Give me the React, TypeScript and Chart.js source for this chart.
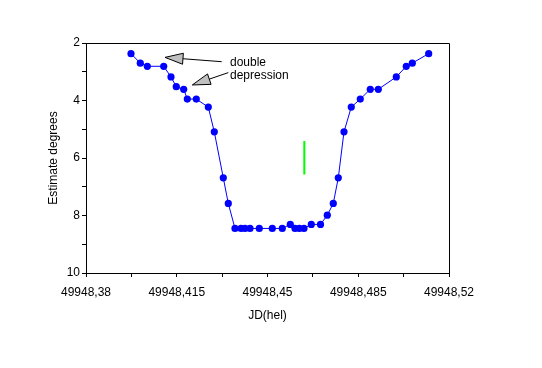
import React, { useEffect, useRef } from "react";
import { Chart, registerables } from "chart.js";

Chart.register(...registerables);

// Observations: heliocentric JD and estimated brightness (degrees)
const jd = [
  49948.39735, 49948.40094, 49948.40364, 49948.40997, 49948.41278, 49948.41482,
  49948.41768, 49948.41907, 49948.42254, 49948.42717, 49948.42948, 49948.43295,
  49948.43488, 49948.43746, 49948.43978, 49948.44132, 49948.44325, 49948.44683,
  49948.45185, 49948.4557, 49948.45879, 49948.4606, 49948.46226, 49948.46407,
  49948.46689, 49948.47044, 49948.47306, 49948.47537, 49948.4773, 49948.4795,
  49948.48231, 49948.48578, 49948.48964, 49948.49273, 49948.49967, 49948.50352,
  49948.50584, 49948.51216,
];
const estimate = [
  2.37, 2.7, 2.81, 2.81, 3.18, 3.52,
  3.61, 3.95, 3.95, 4.23, 5.09, 6.69,
  7.58, 8.45, 8.45, 8.45, 8.45, 8.45,
  8.45, 8.45, 8.31, 8.45, 8.45, 8.45,
  8.31, 8.31, 7.99, 7.58, 6.69, 5.09,
  4.23, 3.95, 3.61, 3.61, 3.18, 2.81,
  2.7, 2.37,
];

// Green mid-eclipse marker
const markerJd = [49948.4642, 49948.4642];
const markerY = [5.41, 6.57];

// Axis ticks
const xTickValues = [
  49948.38, 49948.3975, 49948.415, 49948.4325, 49948.45,
  49948.4675, 49948.485, 49948.5025, 49948.52,
];
const xTickLabels = ["49948,38", "", "49948,415", "", "49948,45", "", "49948,485", "", "49948,52"];
const yTickValues = [2, 3, 4, 5, 6, 7, 8, 9, 10];
const yTickLabels = ["2", "", "4", "", "6", "", "8", "", "10"];

// Annotation
const noteLines = ["double", "depression"];
const noteJd = 49948.43553;
const noteY = [2.7, 3.15];
const arrowTipJd = [49948.41047, 49948.42099];
const arrowTipY = [2.5, 3.46];
const arrowTailJd = [49948.43233, 49948.43488];
const arrowTailY = [2.65, 3.03];

const FONT = "'Liberation Sans', Arial, sans-serif";

const framePlugin = {
  id: "frameAndNotes",
  afterDatasetsDraw(chart: any) {
    const { ctx, chartArea, scales } = chart;
    const xs = scales.x;
    const ys = scales.y;
    ctx.save();
    // plot frame
    ctx.strokeStyle = "#000";
    ctx.lineWidth = 1;
    const l = Math.round(chartArea.left) + 0.5;
    const t = Math.round(chartArea.top) + 0.5;
    const r = Math.round(chartArea.right) + 0.5;
    const b = Math.round(chartArea.bottom) + 0.5;
    ctx.beginPath();
    ctx.moveTo(l, t);
    ctx.lineTo(r, t);
    ctx.lineTo(r, b);
    ctx.stroke();

    // arrows
    for (let i = 0; i < arrowTipJd.length; i++) {
      const tx = xs.getPixelForValue(arrowTipJd[i]);
      const ty = ys.getPixelForValue(arrowTipY[i]);
      const sx = xs.getPixelForValue(arrowTailJd[i]);
      const sy = ys.getPixelForValue(arrowTailY[i]);
      const dx = sx - tx;
      const dy = sy - ty;
      const len = Math.hypot(dx, dy);
      const ux = dx / len;
      const uy = dy / len;
      const headLen = 18;
      const half = 5.5;
      const bx = tx + ux * headLen;
      const by = ty + uy * headLen;
      ctx.beginPath();
      ctx.moveTo(bx, by);
      ctx.lineTo(sx, sy);
      ctx.strokeStyle = "#000";
      ctx.lineWidth = 1;
      ctx.stroke();
      ctx.beginPath();
      ctx.moveTo(tx, ty);
      ctx.lineTo(bx - uy * half, by + ux * half);
      ctx.lineTo(bx + uy * half, by - ux * half);
      ctx.closePath();
      ctx.fillStyle = "#c0c0c0";
      ctx.fill();
      ctx.stroke();
    }

    // note text
    ctx.fillStyle = "#000";
    ctx.font = "12px " + FONT;
    ctx.textAlign = "left";
    ctx.textBaseline = "middle";
    for (let i = 0; i < noteLines.length; i++) {
      ctx.fillText(noteLines[i], xs.getPixelForValue(noteJd), ys.getPixelForValue(noteY[i]));
    }
    ctx.restore();
  },
};

export default function App() {
  const canvasRef = useRef<HTMLCanvasElement | null>(null);

  useEffect(() => {
    document.body.style.margin = "0";
    const canvas = canvasRef.current;
    if (!canvas) return;
    const chart = new Chart(canvas, {
      type: "scatter",
      data: {
        datasets: [
          {
            data: jd.map((x, i) => ({ x, y: estimate[i] })),
            showLine: true,
            borderColor: "#0000ff",
            backgroundColor: "#0000ff",
            borderWidth: 1,
            pointRadius: 3.6,
            pointBorderWidth: 0,
            pointBackgroundColor: "#0000ff",
          },
          {
            data: markerJd.map((x, i) => ({ x, y: markerY[i] })),
            showLine: true,
            borderColor: "#00ff00",
            backgroundColor: "#00ff00",
            borderWidth: 2,
            pointRadius: 0,
          },
        ],
      },
      options: {
        animation: false,
        responsive: false,
        events: [],
        layout: { padding: { left: 46, top: 43, right: 93, bottom: 45 } },
        plugins: {
          legend: { display: false },
          tooltip: { enabled: false },
          title: { display: false },
        },
        scales: {
          x: {
            type: "linear",
            min: 49948.38,
            max: 49948.52,
            afterBuildTicks: (scale: any) => {
              scale.ticks = xTickValues.map((v) => ({ value: v }));
            },
            afterFit: (scale: any) => {
              scale.height = 50;
            },
            ticks: {
              color: "#000",
              font: { family: FONT, size: 12 },
              padding: 8,
              maxRotation: 0,
              autoSkip: false,
              callback: (_v: any, i: number) => xTickLabels[i],
            },
            grid: {
              display: true,
              drawOnChartArea: false,
              drawTicks: true,
              tickLength: 4,
              color: "#000",
            },
            border: { display: true, color: "#000", width: 1 },
            title: {
              display: true,
              text: "JD(hel)",
              color: "#000",
              font: { family: FONT, size: 12 },
              padding: 0,
            },
          },
          y: {
            type: "linear",
            reverse: true,
            min: 2,
            max: 10,
            afterBuildTicks: (scale: any) => {
              scale.ticks = yTickValues.map((v) => ({ value: v }));
            },
            afterFit: (scale: any) => {
              scale.width = 40;
            },
            ticks: {
              color: "#000",
              font: { family: FONT, size: 12 },
              padding: 2,
              autoSkip: false,
              callback: (_v: any, i: number) => yTickLabels[i],
            },
            grid: {
              display: true,
              drawOnChartArea: false,
              drawTicks: true,
              tickLength: 4,
              color: "#000",
            },
            border: { display: true, color: "#000", width: 1 },
            title: {
              display: true,
              text: "Estimate degrees",
              color: "#000",
              font: { family: FONT, size: 12 },
              padding: 0,
            },
          },
        },
      },
      plugins: [framePlugin],
    } as any);
    return () => chart.destroy();
  }, []);

  return (
    <div style={{ width: 542, height: 368, background: "#fff" }}>
      <canvas ref={canvasRef} width={542} height={368} style={{ display: "block" }} />
    </div>
  );
}
